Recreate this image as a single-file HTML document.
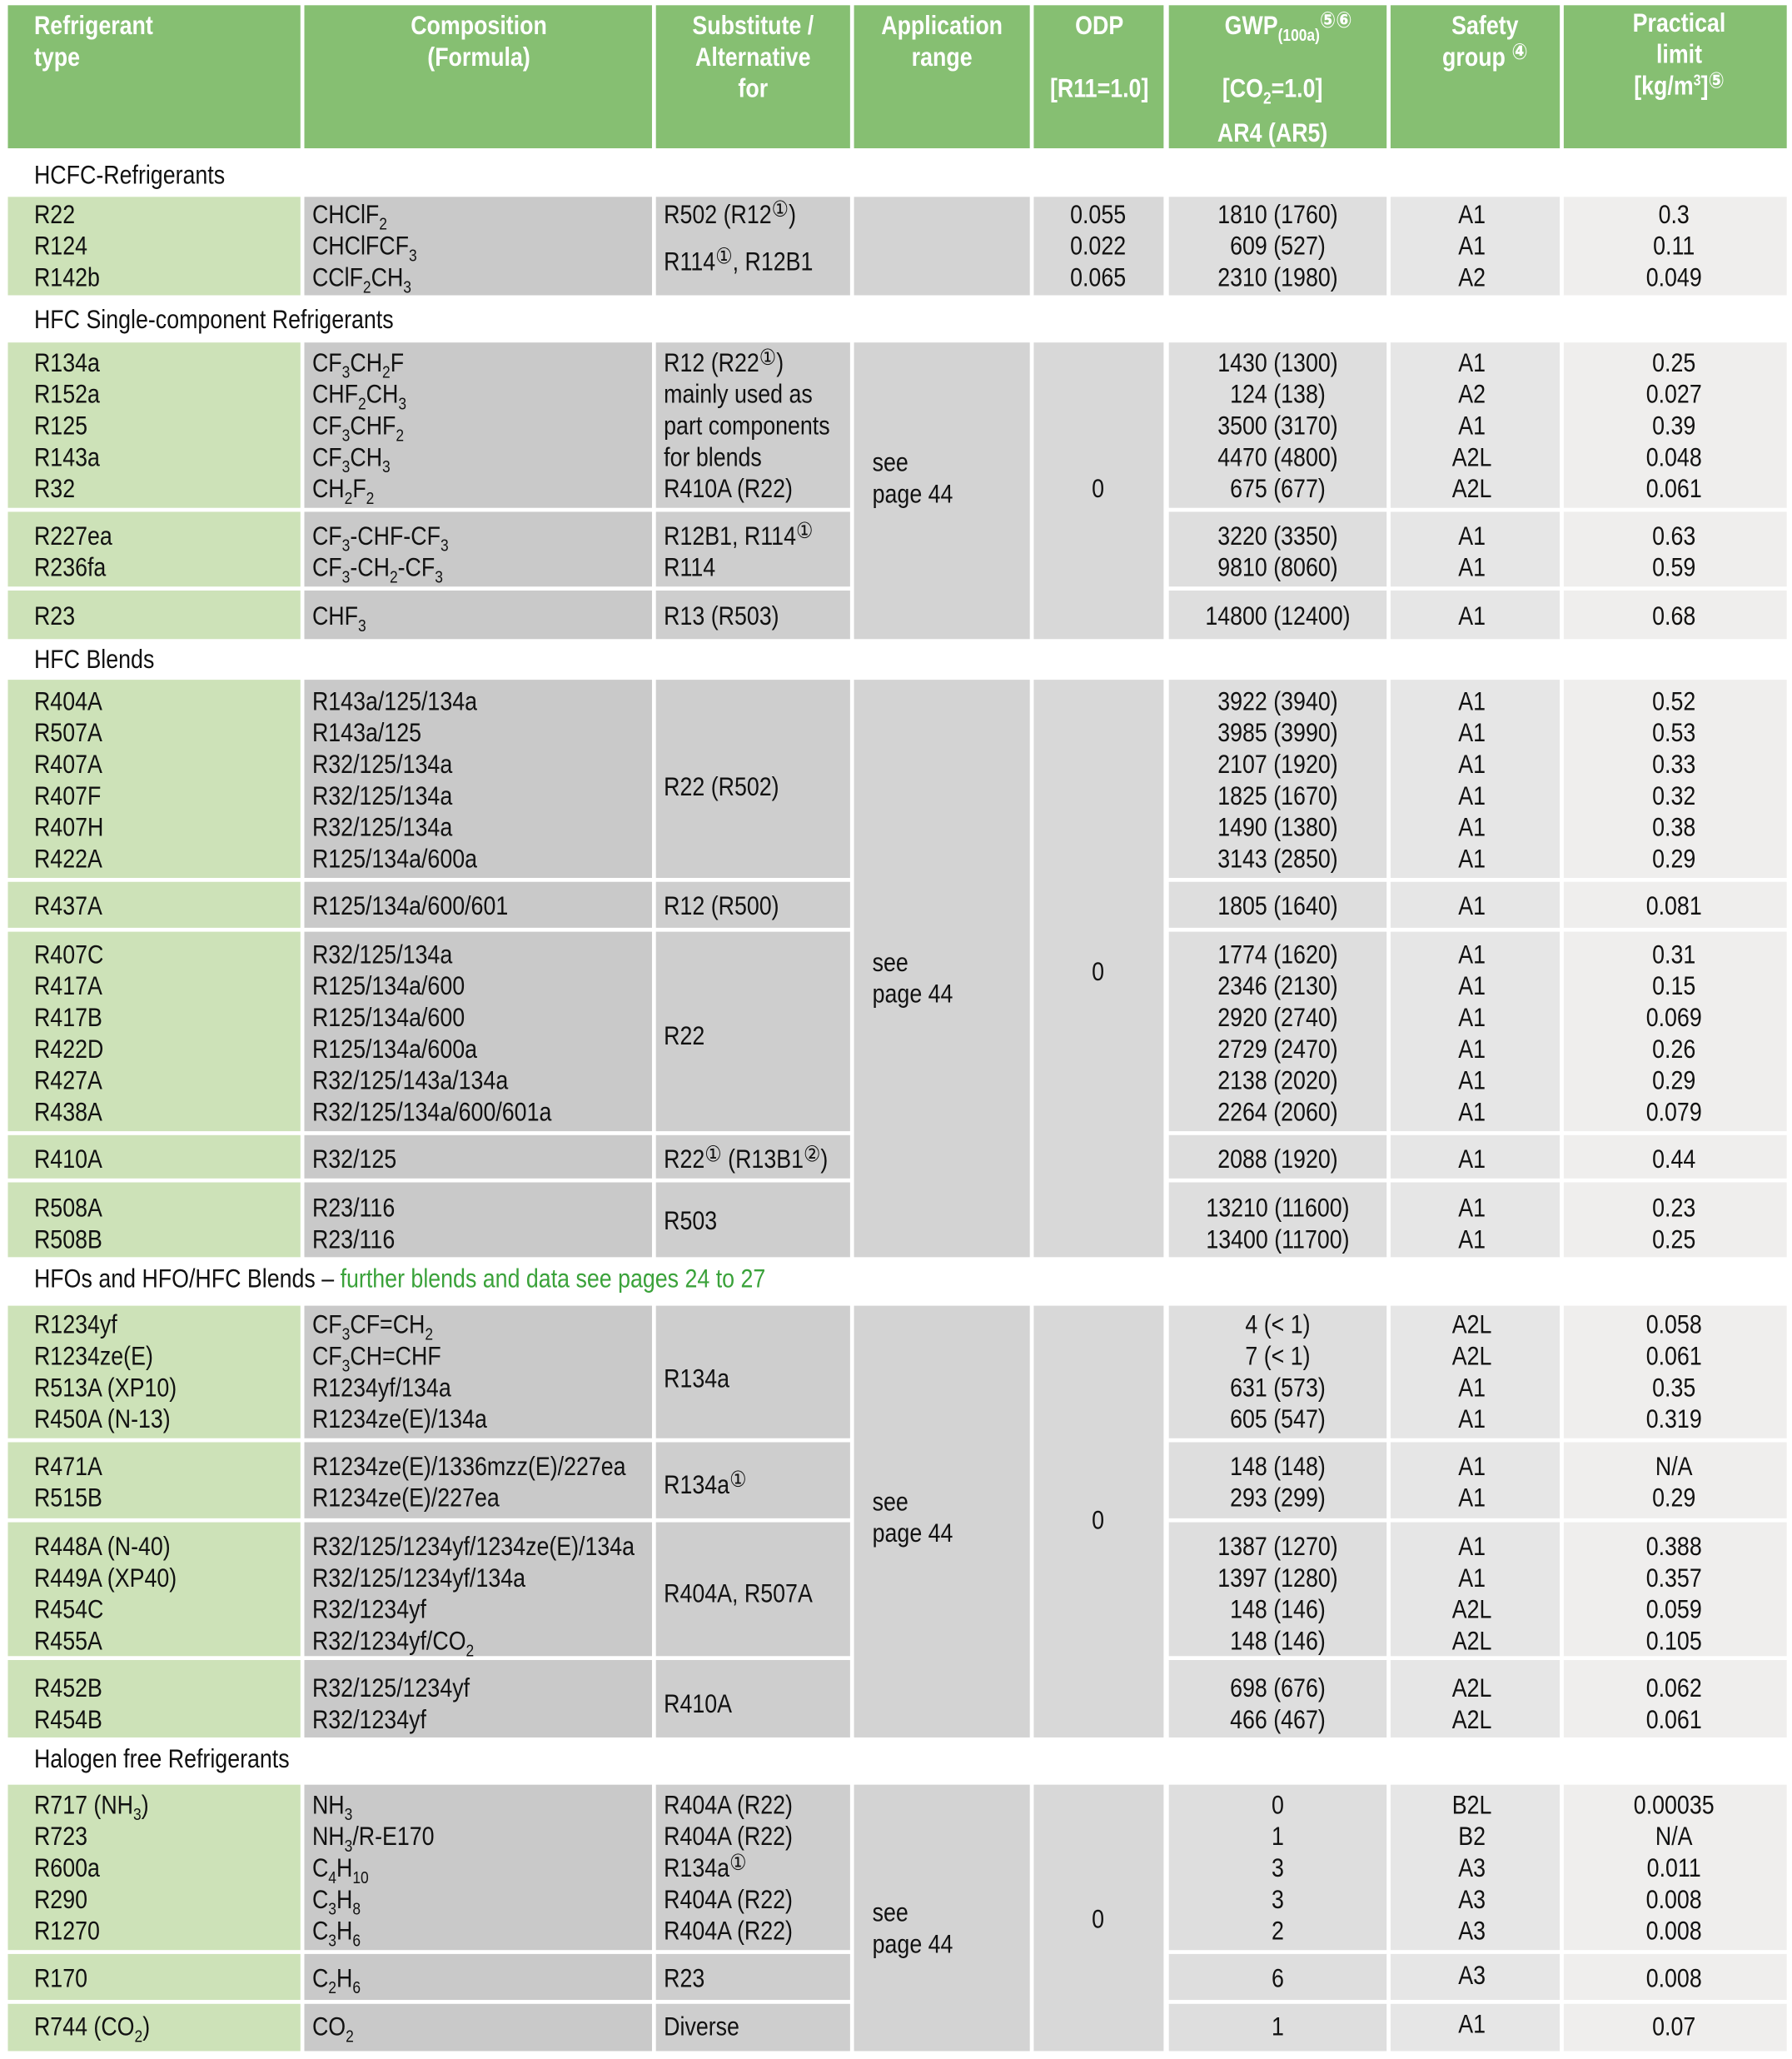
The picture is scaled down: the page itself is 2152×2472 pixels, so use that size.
<!DOCTYPE html>
<html><head><meta charset="utf-8"><style>
html,body{margin:0;padding:0;background:#fff;}
body{width:2152px;height:2472px;overflow:hidden;position:relative;}
#w{position:absolute;left:0;top:0;width:1366px;height:1569px;transform:scale(1.5754,1.5755);transform-origin:0 0;font-family:"Liberation Sans","DejaVu Sans",sans-serif;color:#111;}
.b{position:absolute;}
.g{background:#86bf72;}
.k1{background:#cde2b8;}
.k2{background:#c9c9c9;}
.k3{background:#cecece;}
.k4{background:#d3d3d3;}
.k5{background:#d8d8d8;}
.k6{background:#dedede;}
.k7{background:#e6e6e6;}
.k8{background:#efeeed;}
.l,.c{position:absolute;white-space:nowrap;font-size:20px;line-height:24px;}
.l{transform:scaleX(.85);transform-origin:0 0;}
.c{transform:translateX(-50%) scaleX(.85);text-align:center;}
.h{color:#fff;font-weight:bold;font-size:20px;}
sub{font-size:13px;vertical-align:-5px;line-height:0;}
sup{font-size:12px;vertical-align:7px;line-height:0;}
.ci{font-size:17px;font-family:"DejaVu Sans",sans-serif;vertical-align:5px;line-height:0;}
.gr{color:#3aa23a;}
</style></head><body><div id="w">
<!-- header -->
<div class="b g" style="left:6px;top:4px;width:223px;height:109px"></div>
<div class="b g" style="left:232px;top:4px;width:265px;height:109px"></div>
<div class="b g" style="left:500px;top:4px;width:148px;height:109px"></div>
<div class="b g" style="left:651px;top:4px;width:134px;height:109px"></div>
<div class="b g" style="left:788px;top:4px;width:99px;height:109px"></div>
<div class="b g" style="left:891px;top:4px;width:166px;height:109px"></div>
<div class="b g" style="left:1060px;top:4px;width:129px;height:109px"></div>
<div class="b g" style="left:1192px;top:4px;width:170px;height:109px"></div>
<div class="l h" style="left:26px;top:8px">Refrigerant<br>type</div>
<div class="c h" style="left:365px;top:8px">Composition<br>(Formula)</div>
<div class="c h" style="left:574px;top:8px">Substitute /<br>Alternative<br>for</div>
<div class="c h" style="left:718px;top:8px">Application<br>range</div>
<div class="c h" style="left:838px;top:8px">ODP</div>
<div class="c h" style="left:838px;top:56px">[R11=1.0]</div>
<div class="c h" style="left:982px;top:8px">GWP<sub>(100a)</sub><span class="ci">⑤⑥</span></div>
<div class="c h" style="left:970px;top:56px">[CO<sub>2</sub>=1.0]</div>
<div class="c h" style="left:970px;top:90px">AR4 (AR5)</div>
<div class="c h" style="left:1132px;top:8px">Safety<br>group <span class="ci">④</span></div>
<div class="c h" style="left:1280px;top:6px">Practical<br>limit<br>[kg/m<sup>3</sup>]<span class="ci">⑤</span></div>

<!-- section labels -->
<div class="l" style="left:26px;top:122px">HCFC-Refrigerants</div>
<div class="l" style="left:26px;top:232px">HFC Single-component Refrigerants</div>
<div class="l" style="left:26px;top:491px">HFC Blends</div>
<div class="l" style="left:26px;top:963px">HFOs and HFO/HFC Blends – <span class="gr">further blends and data see pages 24 to 27</span></div>
<div class="l" style="left:26px;top:1329px">Halogen free Refrigerants</div>

<!-- backgrounds -->
<div class="b k1" style="left:6px;top:150px;width:223px;height:75px"></div><div class="b k2" style="left:232px;top:150px;width:265px;height:75px"></div><div class="b k3" style="left:500px;top:150px;width:148px;height:75px"></div><div class="b k6" style="left:891px;top:150px;width:166px;height:75px"></div><div class="b k7" style="left:1060px;top:150px;width:129px;height:75px"></div><div class="b k8" style="left:1192px;top:150px;width:170px;height:75px"></div>
<div class="b k4" style="left:651px;top:150px;width:134px;height:75px"></div><div class="b k5" style="left:788px;top:150px;width:99px;height:75px"></div>

<div class="b k1" style="left:6px;top:261px;width:223px;height:126px"></div><div class="b k2" style="left:232px;top:261px;width:265px;height:126px"></div><div class="b k3" style="left:500px;top:261px;width:148px;height:126px"></div><div class="b k6" style="left:891px;top:261px;width:166px;height:126px"></div><div class="b k7" style="left:1060px;top:261px;width:129px;height:126px"></div><div class="b k8" style="left:1192px;top:261px;width:170px;height:126px"></div>
<div class="b k1" style="left:6px;top:390px;width:223px;height:57px"></div><div class="b k2" style="left:232px;top:390px;width:265px;height:57px"></div><div class="b k3" style="left:500px;top:390px;width:148px;height:57px"></div><div class="b k6" style="left:891px;top:390px;width:166px;height:57px"></div><div class="b k7" style="left:1060px;top:390px;width:129px;height:57px"></div><div class="b k8" style="left:1192px;top:390px;width:170px;height:57px"></div>
<div class="b k1" style="left:6px;top:450px;width:223px;height:37px"></div><div class="b k2" style="left:232px;top:450px;width:265px;height:37px"></div><div class="b k3" style="left:500px;top:450px;width:148px;height:37px"></div><div class="b k6" style="left:891px;top:450px;width:166px;height:37px"></div><div class="b k7" style="left:1060px;top:450px;width:129px;height:37px"></div><div class="b k8" style="left:1192px;top:450px;width:170px;height:37px"></div>
<div class="b k4" style="left:651px;top:261px;width:134px;height:226px"></div><div class="b k5" style="left:788px;top:261px;width:99px;height:226px"></div>

<div class="b k1" style="left:6px;top:518px;width:223px;height:151px"></div><div class="b k2" style="left:232px;top:518px;width:265px;height:151px"></div><div class="b k3" style="left:500px;top:518px;width:148px;height:151px"></div><div class="b k6" style="left:891px;top:518px;width:166px;height:151px"></div><div class="b k7" style="left:1060px;top:518px;width:129px;height:151px"></div><div class="b k8" style="left:1192px;top:518px;width:170px;height:151px"></div>
<div class="b k1" style="left:6px;top:672px;width:223px;height:35px"></div><div class="b k2" style="left:232px;top:672px;width:265px;height:35px"></div><div class="b k3" style="left:500px;top:672px;width:148px;height:35px"></div><div class="b k6" style="left:891px;top:672px;width:166px;height:35px"></div><div class="b k7" style="left:1060px;top:672px;width:129px;height:35px"></div><div class="b k8" style="left:1192px;top:672px;width:170px;height:35px"></div>
<div class="b k1" style="left:6px;top:710px;width:223px;height:152px"></div><div class="b k2" style="left:232px;top:710px;width:265px;height:152px"></div><div class="b k3" style="left:500px;top:710px;width:148px;height:152px"></div><div class="b k6" style="left:891px;top:710px;width:166px;height:152px"></div><div class="b k7" style="left:1060px;top:710px;width:129px;height:152px"></div><div class="b k8" style="left:1192px;top:710px;width:170px;height:152px"></div>
<div class="b k1" style="left:6px;top:865px;width:223px;height:33px"></div><div class="b k2" style="left:232px;top:865px;width:265px;height:33px"></div><div class="b k3" style="left:500px;top:865px;width:148px;height:33px"></div><div class="b k6" style="left:891px;top:865px;width:166px;height:33px"></div><div class="b k7" style="left:1060px;top:865px;width:129px;height:33px"></div><div class="b k8" style="left:1192px;top:865px;width:170px;height:33px"></div>
<div class="b k1" style="left:6px;top:901px;width:223px;height:57px"></div><div class="b k2" style="left:232px;top:901px;width:265px;height:57px"></div><div class="b k3" style="left:500px;top:901px;width:148px;height:57px"></div><div class="b k6" style="left:891px;top:901px;width:166px;height:57px"></div><div class="b k7" style="left:1060px;top:901px;width:129px;height:57px"></div><div class="b k8" style="left:1192px;top:901px;width:170px;height:57px"></div>
<div class="b k4" style="left:651px;top:518px;width:134px;height:440px"></div><div class="b k5" style="left:788px;top:518px;width:99px;height:440px"></div>

<div class="b k1" style="left:6px;top:995px;width:223px;height:101px"></div><div class="b k2" style="left:232px;top:995px;width:265px;height:101px"></div><div class="b k3" style="left:500px;top:995px;width:148px;height:101px"></div><div class="b k6" style="left:891px;top:995px;width:166px;height:101px"></div><div class="b k7" style="left:1060px;top:995px;width:129px;height:101px"></div><div class="b k8" style="left:1192px;top:995px;width:170px;height:101px"></div>
<div class="b k1" style="left:6px;top:1099px;width:223px;height:58px"></div><div class="b k2" style="left:232px;top:1099px;width:265px;height:58px"></div><div class="b k3" style="left:500px;top:1099px;width:148px;height:58px"></div><div class="b k6" style="left:891px;top:1099px;width:166px;height:58px"></div><div class="b k7" style="left:1060px;top:1099px;width:129px;height:58px"></div><div class="b k8" style="left:1192px;top:1099px;width:170px;height:58px"></div>
<div class="b k1" style="left:6px;top:1160px;width:223px;height:102px"></div><div class="b k2" style="left:232px;top:1160px;width:265px;height:102px"></div><div class="b k3" style="left:500px;top:1160px;width:148px;height:102px"></div><div class="b k6" style="left:891px;top:1160px;width:166px;height:102px"></div><div class="b k7" style="left:1060px;top:1160px;width:129px;height:102px"></div><div class="b k8" style="left:1192px;top:1160px;width:170px;height:102px"></div>
<div class="b k1" style="left:6px;top:1265px;width:223px;height:59px"></div><div class="b k2" style="left:232px;top:1265px;width:265px;height:59px"></div><div class="b k3" style="left:500px;top:1265px;width:148px;height:59px"></div><div class="b k6" style="left:891px;top:1265px;width:166px;height:59px"></div><div class="b k7" style="left:1060px;top:1265px;width:129px;height:59px"></div><div class="b k8" style="left:1192px;top:1265px;width:170px;height:59px"></div>
<div class="b k4" style="left:651px;top:995px;width:134px;height:329px"></div><div class="b k5" style="left:788px;top:995px;width:99px;height:329px"></div>

<div class="b k1" style="left:6px;top:1360px;width:223px;height:126px"></div><div class="b k2" style="left:232px;top:1360px;width:265px;height:126px"></div><div class="b k3" style="left:500px;top:1360px;width:148px;height:126px"></div><div class="b k6" style="left:891px;top:1360px;width:166px;height:126px"></div><div class="b k7" style="left:1060px;top:1360px;width:129px;height:126px"></div><div class="b k8" style="left:1192px;top:1360px;width:170px;height:126px"></div>
<div class="b k1" style="left:6px;top:1489px;width:223px;height:35px"></div><div class="b k2" style="left:232px;top:1489px;width:265px;height:35px"></div><div class="b k3" style="left:500px;top:1489px;width:148px;height:35px"></div><div class="b k6" style="left:891px;top:1489px;width:166px;height:35px"></div><div class="b k7" style="left:1060px;top:1489px;width:129px;height:35px"></div><div class="b k8" style="left:1192px;top:1489px;width:170px;height:35px"></div>
<div class="b k1" style="left:6px;top:1527px;width:223px;height:36px"></div><div class="b k2" style="left:232px;top:1527px;width:265px;height:36px"></div><div class="b k3" style="left:500px;top:1527px;width:148px;height:36px"></div><div class="b k6" style="left:891px;top:1527px;width:166px;height:36px"></div><div class="b k7" style="left:1060px;top:1527px;width:129px;height:36px"></div><div class="b k8" style="left:1192px;top:1527px;width:170px;height:36px"></div>
<div class="b k4" style="left:651px;top:1360px;width:134px;height:203px"></div><div class="b k5" style="left:788px;top:1360px;width:99px;height:203px"></div>

<!-- HCFC -->
<div class="l" style="left:26px;top:152px">R22<br>R124<br>R142b</div>
<div class="l" style="left:238px;top:152px">CHClF<sub>2</sub><br>CHClFCF<sub>3</sub><br>CClF<sub>2</sub>CH<sub>3</sub></div>
<div class="l" style="left:506px;top:152px">R502 (R12<span class="ci">①</span>)</div>
<div class="l" style="left:506px;top:188px">R114<span class="ci">①</span>, R12B1</div>
<div class="c" style="left:837px;top:152px">0.055<br>0.022<br>0.065</div>
<div class="c" style="left:974px;top:152px">1810 (1760)<br>609 (527)<br>2310 (1980)</div>
<div class="c" style="left:1122px;top:152px">A1<br>A1<br>A2</div>
<div class="c" style="left:1276px;top:152px">0.3<br>0.11<br>0.049</div>

<!-- HFC single -->
<div class="l" style="left:26px;top:265px">R134a<br>R152a<br>R125<br>R143a<br>R32</div>
<div class="l" style="left:238px;top:265px">CF<sub>3</sub>CH<sub>2</sub>F<br>CHF<sub>2</sub>CH<sub>3</sub><br>CF<sub>3</sub>CHF<sub>2</sub><br>CF<sub>3</sub>CH<sub>3</sub><br>CH<sub>2</sub>F<sub>2</sub></div>
<div class="l" style="left:506px;top:265px">R12 (R22<span class="ci">①</span>)<br>mainly used as<br>part components<br>for blends<br>R410A (R22)</div>
<div class="c" style="left:974px;top:265px">1430 (1300)<br>124 (138)<br>3500 (3170)<br>4470 (4800)<br>675 (677)</div>
<div class="c" style="left:1122px;top:265px">A1<br>A2<br>A1<br>A2L<br>A2L</div>
<div class="c" style="left:1276px;top:265px">0.25<br>0.027<br>0.39<br>0.048<br>0.061</div>
<div class="l" style="left:665px;top:341px">see<br>page 44</div>
<div class="c" style="left:837px;top:361px">0</div>
<div class="l" style="left:26px;top:397px">R227ea<br>R236fa</div>
<div class="l" style="left:238px;top:397px">CF<sub>3</sub>-CHF-CF<sub>3</sub><br>CF<sub>3</sub>-CH<sub>2</sub>-CF<sub>3</sub></div>
<div class="l" style="left:506px;top:397px">R12B1, R114<span class="ci">①</span><br>R114</div>
<div class="c" style="left:974px;top:397px">3220 (3350)<br>9810 (8060)</div>
<div class="c" style="left:1122px;top:397px">A1<br>A1</div>
<div class="c" style="left:1276px;top:397px">0.63<br>0.59</div>
<div class="l" style="left:26px;top:458px">R23</div>
<div class="l" style="left:238px;top:458px">CHF<sub>3</sub></div>
<div class="l" style="left:506px;top:458px">R13 (R503)</div>
<div class="c" style="left:974px;top:458px">14800 (12400)</div>
<div class="c" style="left:1122px;top:458px">A1</div>
<div class="c" style="left:1276px;top:458px">0.68</div>

<!-- HFC blends -->
<div class="l" style="left:26px;top:523px">R404A<br>R507A<br>R407A<br>R407F<br>R407H<br>R422A</div>
<div class="l" style="left:238px;top:523px">R143a/125/134a<br>R143a/125<br>R32/125/134a<br>R32/125/134a<br>R32/125/134a<br>R125/134a/600a</div>
<div class="l" style="left:506px;top:588px">R22 (R502)</div>
<div class="c" style="left:974px;top:523px">3922 (3940)<br>3985 (3990)<br>2107 (1920)<br>1825 (1670)<br>1490 (1380)<br>3143 (2850)</div>
<div class="c" style="left:1122px;top:523px">A1<br>A1<br>A1<br>A1<br>A1<br>A1</div>
<div class="c" style="left:1276px;top:523px">0.52<br>0.53<br>0.33<br>0.32<br>0.38<br>0.29</div>
<div class="l" style="left:26px;top:679px">R437A</div>
<div class="l" style="left:238px;top:679px">R125/134a/600/601</div>
<div class="l" style="left:506px;top:679px">R12 (R500)</div>
<div class="c" style="left:974px;top:679px">1805 (1640)</div>
<div class="c" style="left:1122px;top:679px">A1</div>
<div class="c" style="left:1276px;top:679px">0.081</div>
<div class="l" style="left:26px;top:716px">R407C<br>R417A<br>R417B<br>R422D<br>R427A<br>R438A</div>
<div class="l" style="left:238px;top:716px">R32/125/134a<br>R125/134a/600<br>R125/134a/600<br>R125/134a/600a<br>R32/125/143a/134a<br>R32/125/134a/600/601a</div>
<div class="l" style="left:506px;top:778px">R22</div>
<div class="c" style="left:974px;top:716px">1774 (1620)<br>2346 (2130)<br>2920 (2740)<br>2729 (2470)<br>2138 (2020)<br>2264 (2060)</div>
<div class="c" style="left:1122px;top:716px">A1<br>A1<br>A1<br>A1<br>A1<br>A1</div>
<div class="c" style="left:1276px;top:716px">0.31<br>0.15<br>0.069<br>0.26<br>0.29<br>0.079</div>
<div class="l" style="left:665px;top:722px">see<br>page 44</div>
<div class="c" style="left:837px;top:729px">0</div>
<div class="l" style="left:26px;top:872px">R410A</div>
<div class="l" style="left:238px;top:872px">R32/125</div>
<div class="l" style="left:506px;top:872px">R22<span class="ci">①</span> (R13B1<span class="ci">②</span>)</div>
<div class="c" style="left:974px;top:872px">2088 (1920)</div>
<div class="c" style="left:1122px;top:872px">A1</div>
<div class="c" style="left:1276px;top:872px">0.44</div>
<div class="l" style="left:26px;top:909px">R508A<br>R508B</div>
<div class="l" style="left:238px;top:909px">R23/116<br>R23/116</div>
<div class="l" style="left:506px;top:919px">R503</div>
<div class="c" style="left:974px;top:909px">13210 (11600)<br>13400 (11700)</div>
<div class="c" style="left:1122px;top:909px">A1<br>A1</div>
<div class="c" style="left:1276px;top:909px">0.23<br>0.25</div>

<!-- HFO -->
<div class="l" style="left:26px;top:998px">R1234yf<br>R1234ze(E)<br>R513A (XP10)<br>R450A (N-13)</div>
<div class="l" style="left:238px;top:998px">CF<sub>3</sub>CF=CH<sub>2</sub><br>CF<sub>3</sub>CH=CHF<br>R1234yf/134a<br>R1234ze(E)/134a</div>
<div class="l" style="left:506px;top:1039px">R134a</div>
<div class="c" style="left:974px;top:998px">4 (&lt; 1)<br>7 (&lt; 1)<br>631 (573)<br>605 (547)</div>
<div class="c" style="left:1122px;top:998px">A2L<br>A2L<br>A1<br>A1</div>
<div class="c" style="left:1276px;top:998px">0.058<br>0.061<br>0.35<br>0.319</div>
<div class="l" style="left:26px;top:1106px">R471A<br>R515B</div>
<div class="l" style="left:238px;top:1106px">R1234ze(E)/1336mzz(E)/227ea<br>R1234ze(E)/227ea</div>
<div class="l" style="left:506px;top:1120px">R134a<span class="ci">①</span></div>
<div class="c" style="left:974px;top:1106px">148 (148)<br>293 (299)</div>
<div class="c" style="left:1122px;top:1106px">A1<br>A1</div>
<div class="c" style="left:1276px;top:1106px">N/A<br>0.29</div>
<div class="l" style="left:665px;top:1133px">see<br>page 44</div>
<div class="c" style="left:837px;top:1147px">0</div>
<div class="l" style="left:26px;top:1167px">R448A (N-40)<br>R449A (XP40)<br>R454C<br>R455A</div>
<div class="l" style="left:238px;top:1167px">R32/125/1234yf/1234ze(E)/134a<br>R32/125/1234yf/134a<br>R32/1234yf<br>R32/1234yf/CO<sub>2</sub></div>
<div class="l" style="left:506px;top:1203px">R404A, R507A</div>
<div class="c" style="left:974px;top:1167px">1387 (1270)<br>1397 (1280)<br>148 (146)<br>148 (146)</div>
<div class="c" style="left:1122px;top:1167px">A1<br>A1<br>A2L<br>A2L</div>
<div class="c" style="left:1276px;top:1167px">0.388<br>0.357<br>0.059<br>0.105</div>
<div class="l" style="left:26px;top:1275px">R452B<br>R454B</div>
<div class="l" style="left:238px;top:1275px">R32/125/1234yf<br>R32/1234yf</div>
<div class="l" style="left:506px;top:1287px">R410A</div>
<div class="c" style="left:974px;top:1275px">698 (676)<br>466 (467)</div>
<div class="c" style="left:1122px;top:1275px">A2L<br>A2L</div>
<div class="c" style="left:1276px;top:1275px">0.062<br>0.061</div>

<!-- Halogen free -->
<div class="l" style="left:26px;top:1364px">R717 (NH<sub>3</sub>)<br>R723<br>R600a<br>R290<br>R1270</div>
<div class="l" style="left:238px;top:1364px">NH<sub>3</sub><br>NH<sub>3</sub>/R-E170<br>C<sub>4</sub>H<sub>10</sub><br>C<sub>3</sub>H<sub>8</sub><br>C<sub>3</sub>H<sub>6</sub></div>
<div class="l" style="left:506px;top:1364px">R404A (R22)<br>R404A (R22)<br>R134a<span class="ci">①</span><br>R404A (R22)<br>R404A (R22)</div>
<div class="c" style="left:974px;top:1364px">0<br>1<br>3<br>3<br>2</div>
<div class="c" style="left:1122px;top:1364px">B2L<br>B2<br>A3<br>A3<br>A3</div>
<div class="c" style="left:1276px;top:1364px">0.00035<br>N/A<br>0.011<br>0.008<br>0.008</div>
<div class="l" style="left:665px;top:1446px">see<br>page 44</div>
<div class="c" style="left:837px;top:1451px">0</div>
<div class="l" style="left:26px;top:1496px">R170</div>
<div class="l" style="left:238px;top:1496px">C<sub>2</sub>H<sub>6</sub></div>
<div class="l" style="left:506px;top:1496px">R23</div>
<div class="c" style="left:974px;top:1496px">6</div>
<div class="c" style="left:1122px;top:1494px">A3</div>
<div class="c" style="left:1276px;top:1496px">0.008</div>
<div class="l" style="left:26px;top:1533px">R744 (CO<sub>2</sub>)</div>
<div class="l" style="left:238px;top:1533px">CO<sub>2</sub></div>
<div class="l" style="left:506px;top:1533px">Diverse</div>
<div class="c" style="left:974px;top:1533px">1</div>
<div class="c" style="left:1122px;top:1531px">A1</div>
<div class="c" style="left:1276px;top:1533px">0.07</div>
</div></body></html>
